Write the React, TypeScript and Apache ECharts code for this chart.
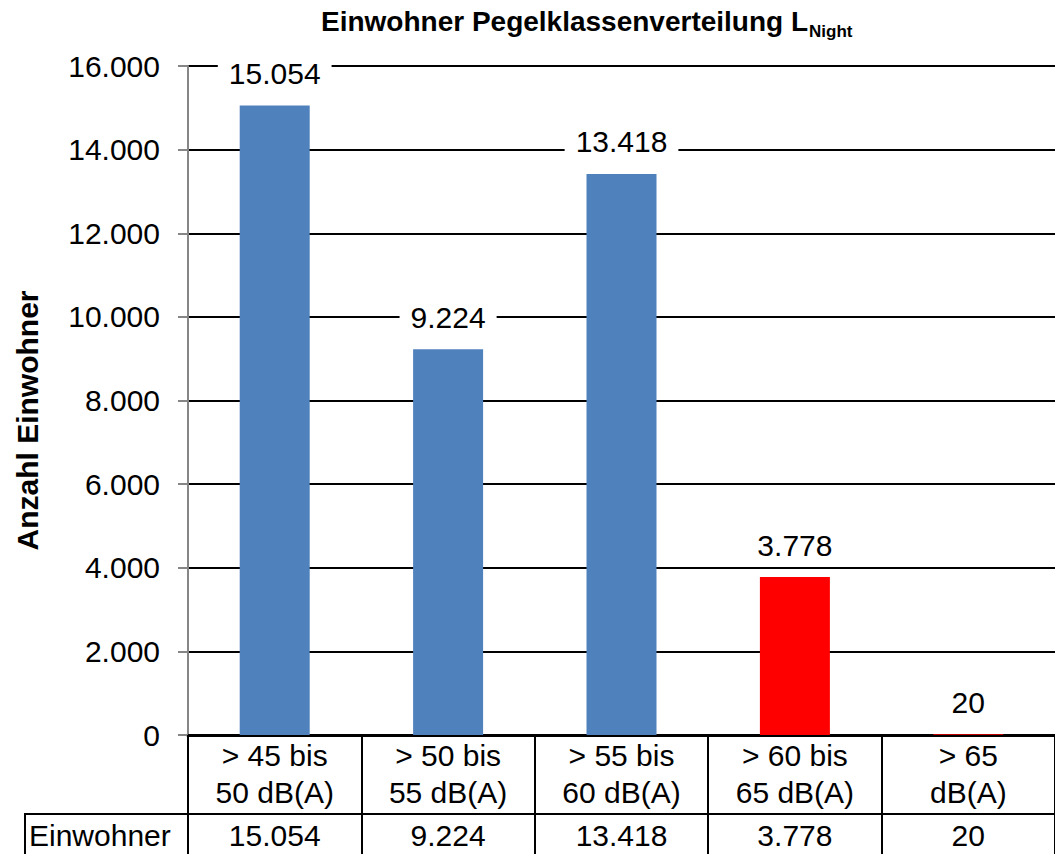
import React, { useEffect, useRef } from "react";
import * as echarts from "echarts";

const categories = [
  "> 45 bis\n50 dB(A)",
  "> 50 bis\n55 dB(A)",
  "> 55 bis\n60 dB(A)",
  "> 60 bis\n65 dB(A)",
  "> 65\ndB(A)",
];
const values = [15054, 9224, 13418, 3778, 20];
const barColors = ["#4F81BD", "#4F81BD", "#4F81BD", "#FF0000", "#FF0000"];
const yTicks = { min: 0, max: 16000, interval: 2000 };
const rowLabel = "Einwohner";
const titleMain = "Einwohner Pegelklassenverteilung L";
const titleSub = "Night";
const yName = "Anzahl Einwohner";

const FONT = "Liberation Sans, Arial, sans-serif";
const fmt = (v: number) => String(v).replace(/\B(?=(\d{3})+(?!\d))/g, ".");

export default function App() {
  const ref = useRef<HTMLDivElement>(null);
  useEffect(() => {
    document.body.style.margin = "0";
    const chart = echarts.init(ref.current!, null, { renderer: "svg" });
    chart.setOption({
      animation: false,
      backgroundColor: "#fff",
      textStyle: { fontFamily: FONT },
      title: {
        left: 321,
        top: 1,
        padding: 0,
        text: `{a|${titleMain}}{b|${titleSub}}`,
        textStyle: {
          rich: {
            a: { fontSize: 28, fontWeight: "bold", color: "#000", fontFamily: FONT, lineHeight: 40 },
            b: {
              fontSize: 17,
              fontWeight: "bold",
              color: "#000",
              fontFamily: FONT,
              verticalAlign: "top",
              lineHeight: 18,
              padding: [22, 0, 0, 1],
            },
          },
        },
      },
      grid: { left: 188, top: 66, right: -7, bottom: 119, containLabel: false },
      xAxis: [
        {
          type: "category",
          data: categories,
          position: "bottom",
          axisLine: { show: true, lineStyle: { color: "#000", width: 3 } },
          axisTick: { show: true, length: 79, interval: 0, lineStyle: { color: "#000", width: 2 } },
          axisLabel: {
            interval: 0,
            margin: 2,
            fontSize: 30,
            lineHeight: 37,
            color: "#000",
            fontFamily: FONT,
          },
        },
        {
          type: "category",
          data: values.map(fmt),
          position: "bottom",
          offset: 79,
          axisLine: { show: true, lineStyle: { color: "#000", width: 2 } },
          axisTick: { show: true, length: 60, interval: 0, lineStyle: { color: "#000", width: 2 } },
          axisLabel: {
            interval: 0,
            margin: 6,
            fontSize: 30,
            lineHeight: 30,
            color: "#000",
            fontFamily: FONT,
          },
        },
      ],
      yAxis: {
        type: "value",
        min: yTicks.min,
        max: yTicks.max,
        interval: yTicks.interval,
        name: yName,
        nameLocation: "middle",
        nameRotate: 90,
        nameGap: 146,
        nameTextStyle: { fontSize: 30, fontWeight: "bold", color: "#000", fontFamily: FONT, padding: [0, 40, 0, 0] },
        axisLine: { show: true, lineStyle: { color: "#868686", width: 2 } },
        axisTick: { show: true, length: 10, lineStyle: { color: "#868686", width: 2 } },
        axisLabel: {
          margin: 28,
          fontSize: 30,
          color: "#000",
          fontFamily: FONT,
          formatter: (v: number) => fmt(v),
        },
        splitLine: { show: true, lineStyle: { color: "#000", width: 2 } },
      },
      series: [
        {
          type: "bar",
          xAxisIndex: 0,
          barWidth: 70,
          data: values.map((v, i) => ({ value: v, itemStyle: { color: barColors[i] } })),
          label: {
            show: true,
            position: "top",
            distance: 10,
            fontSize: 30,
            lineHeight: 30,
            color: "#000",
            fontFamily: FONT,
            backgroundColor: "#fff",
            padding: [2, 11, 7, 11],
            formatter: (p: any) => fmt(p.value),
          },
        },
      ],
      graphic: [
        {
          type: "rect",
          shape: { x: 25, y: 814, width: 163, height: 60 },
          style: { fill: "none", stroke: "#000", lineWidth: 2 },
        },
        {
          type: "text",
          x: 29,
          y: 835,
          style: {
            text: rowLabel,
            fontSize: 30,
            fontFamily: FONT,
            fill: "#000",
            verticalAlign: "middle",
          },
        },
      ],
    });
    return () => chart.dispose();
  }, []);
  return <div ref={ref} style={{ width: 1055, height: 854 }} />;
}
